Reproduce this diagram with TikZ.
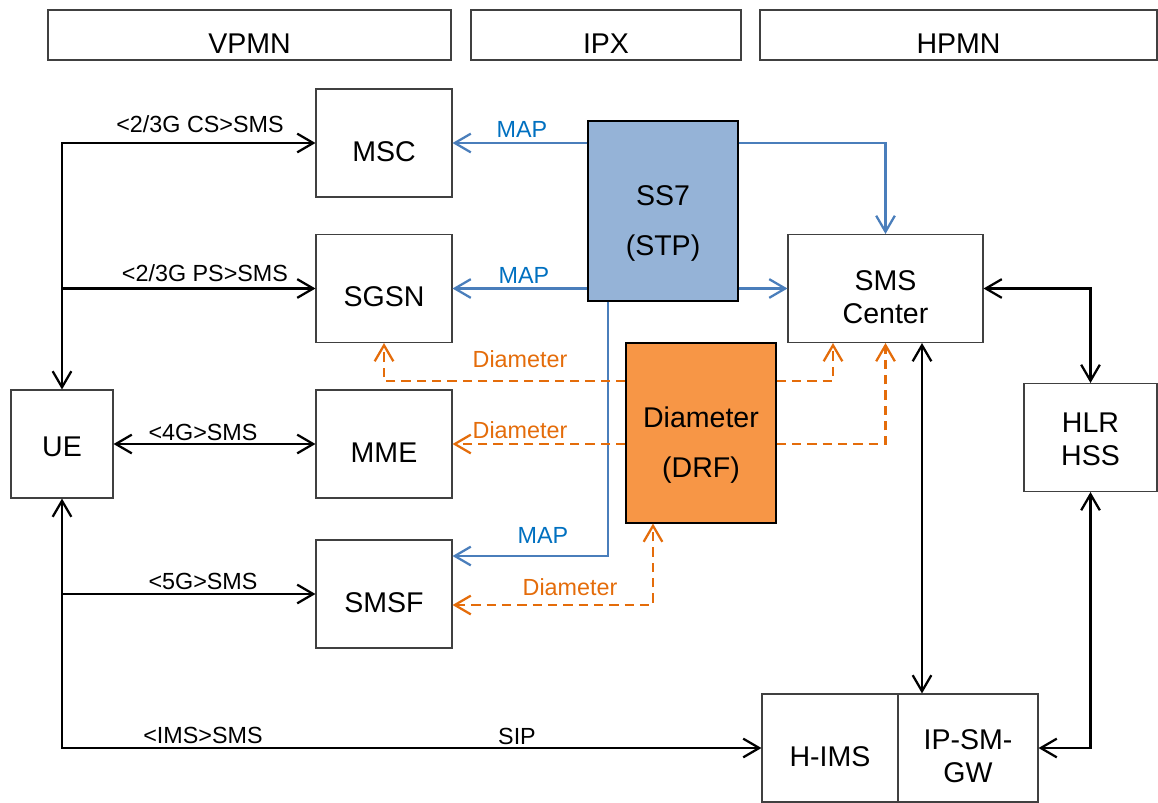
\documentclass[tikz,border=0pt]{standalone}
\usepackage{fontspec}
\setmainfont{Liberation Sans}
\usetikzlibrary{arrows.meta}
\definecolor{mapblue}{RGB}{74,126,187}
\definecolor{maptext}{RGB}{0,112,192}
\definecolor{stpfill}{RGB}{149,179,215}
\definecolor{drffill}{RGB}{247,150,70}
\definecolor{diaorange}{RGB}{228,108,10}
\definecolor{boxgray}{RGB}{64,64,64}
\newcommand{\lift}[1][27.5pt]{\rule{0pt}{#1}}

\begin{document}
\begin{tikzpicture}[x=0.75pt, y=-0.75pt, >={Straight Barb[length=12pt,width=14pt]}]
    \tikzstyle{hdr} = [rectangle, draw=boxgray, line width=0.8pt, minimum height=37.5pt, inner sep=0pt, font=\fontsize{21.4}{25}\selectfont]
    \tikzstyle{nf} = [rectangle, draw=boxgray, line width=0.8pt, minimum width=102pt, minimum height=81pt, inner sep=0pt, align=center, font=\fontsize{21.4}{24.75}\selectfont]
    \tikzstyle{relay} = [nf, draw=black, minimum width=112.5pt, minimum height=135pt, font=\fontsize{21.4}{37.5}\selectfont]
    \tikzstyle{lbl} = [inner sep=0pt, font=\fontsize{17.5}{20}\selectfont]
    \tikzstyle{blk} = [line width=1.7pt]
    \tikzstyle{map} = [line width=1.7pt, draw=mapblue]
    \tikzstyle{dia} = [line width=1.7pt, draw=diaorange, dash pattern=on 7pt off 4.5pt]

    \useasboundingbox (0,0) rectangle (1158,803);

    % Domains
    \node [hdr, minimum width=302.25pt] (vpmn) at (249.5,35) {\lift VPMN};
    \node [hdr, minimum width=202.5pt] (ipx) at (606,35) {\lift IPX};
    \node [hdr, minimum width=297.75pt] (hpmn) at (958.5,35) {\lift HPMN};

    % Visited network
    \node [nf, minimum width=76.5pt] (ue) at (62,444) {\lift[18.3pt]UE};
    \node [nf] (msc) at (384,143) {\lift MSC};
    \node [nf] (sgsn) at (384,288.5) {\lift SGSN};
    \node [nf] (mme) at (384,444) {\lift MME};
    \node [nf] (smsf) at (384,594) {\lift SMSF};

    % IPX
    \node [relay, fill=stpfill] (ss7) at (663,211) {\lift[33pt]SS7\\(STP)};
    \node [relay, fill=drffill] (drf) at (701,433) {\lift[33pt]Diameter\\(DRF)};

    % Home network
    \node [nf, minimum width=146.25pt] (smsc) at (885.5,288.5) {\lift SMS\\Center};
    \node [nf, minimum width=99.75pt] (hlr) at (1090.5,437.5) {\lift[16.8pt]HLR\\HSS};
    \node [nf] (hims) at (830,748) {\lift H-IMS};
    \node [nf, minimum width=105pt] (ipsmgw) at (968,748) {\lift IP-SM-\\GW};

    % UE links
    \draw [blk, <->] (msc.west) -| (ue.north);
    \draw [blk, ->] (ue.north |- sgsn.west) -- (sgsn.west);
    \draw [blk, <->] (ue) -- (mme);
    \draw [blk, <->] (hims.west) -| (ue.south);
    \draw [blk, ->] (ue.south |- smsf.west) -- (smsf.west);

    % SS7 links
    \draw [map, ->] (ss7.west |- msc.east) -- (msc.east);
    \draw [map, ->] (ss7.west |- sgsn.east) -- (sgsn.east);
    \draw [map, ->] (ss7.east |- msc.east) -| (smsc.north);
    \draw [map, ->] (ss7.east |- smsc.west) -- (smsc.west);
    \coordinate (mapturn) at (608,556);
    \draw [map, ->] (mapturn |- ss7.south) -- (mapturn) -- (mapturn -| smsf.east);

    % Diameter links
    \coordinate (diaturn) at (833,381);
    \draw [dia, ->] (drf.west |- diaturn) -| (sgsn.south);
    \draw [dia, ->] (drf.east |- diaturn) -| (diaturn |- smsc.south);
    \draw [dia, ->] (drf.west |- mme.east) -- (mme.east);
    \draw [dia, ->] (drf.east |- mme.east) -| (smsc.south);
    \coordinate (smsfturn) at (653,605);
    \draw [dia, <->] (smsfturn -| smsf.east) -- (smsfturn) -- (smsfturn |- drf.south);

    % Home links
    \coordinate (smscdown) at (922,520);
    \draw [blk, <->] (smscdown |- smsc.south) -- (smscdown |- ipsmgw.north);
    \draw [blk, <->] (smsc.east) -| (hlr.north);
    \draw [blk, <->] (hlr.south) |- (ipsmgw.east);

    % Labels
    \node [lbl] (l23cs) at (200,124) {<2/3G CS>SMS};
    \node [lbl] (l23ps) at (205,273) {<2/3G PS>SMS};
    \node [lbl] (l4g) at (203,432) {<4G>SMS};
    \node [lbl] (l5g) at (203,581) {<5G>SMS};
    \node [lbl] (lims) at (203,735) {<IMS>SMS};
    \node [lbl] (lsip) at (517,736) {SIP};
    \node [lbl, text=maptext] (lmap1) at (522,129) {MAP};
    \node [lbl, text=maptext] (lmap2) at (524,275) {MAP};
    \node [lbl, text=maptext] (lmap3) at (543,535) {MAP};
    \node [lbl, text=diaorange] (ldia1) at (520,359) {Diameter};
    \node [lbl, text=diaorange] (ldia2) at (520,430) {Diameter};
    \node [lbl, text=diaorange] (ldia3) at (570,587) {Diameter};
\end{tikzpicture}
\end{document}
